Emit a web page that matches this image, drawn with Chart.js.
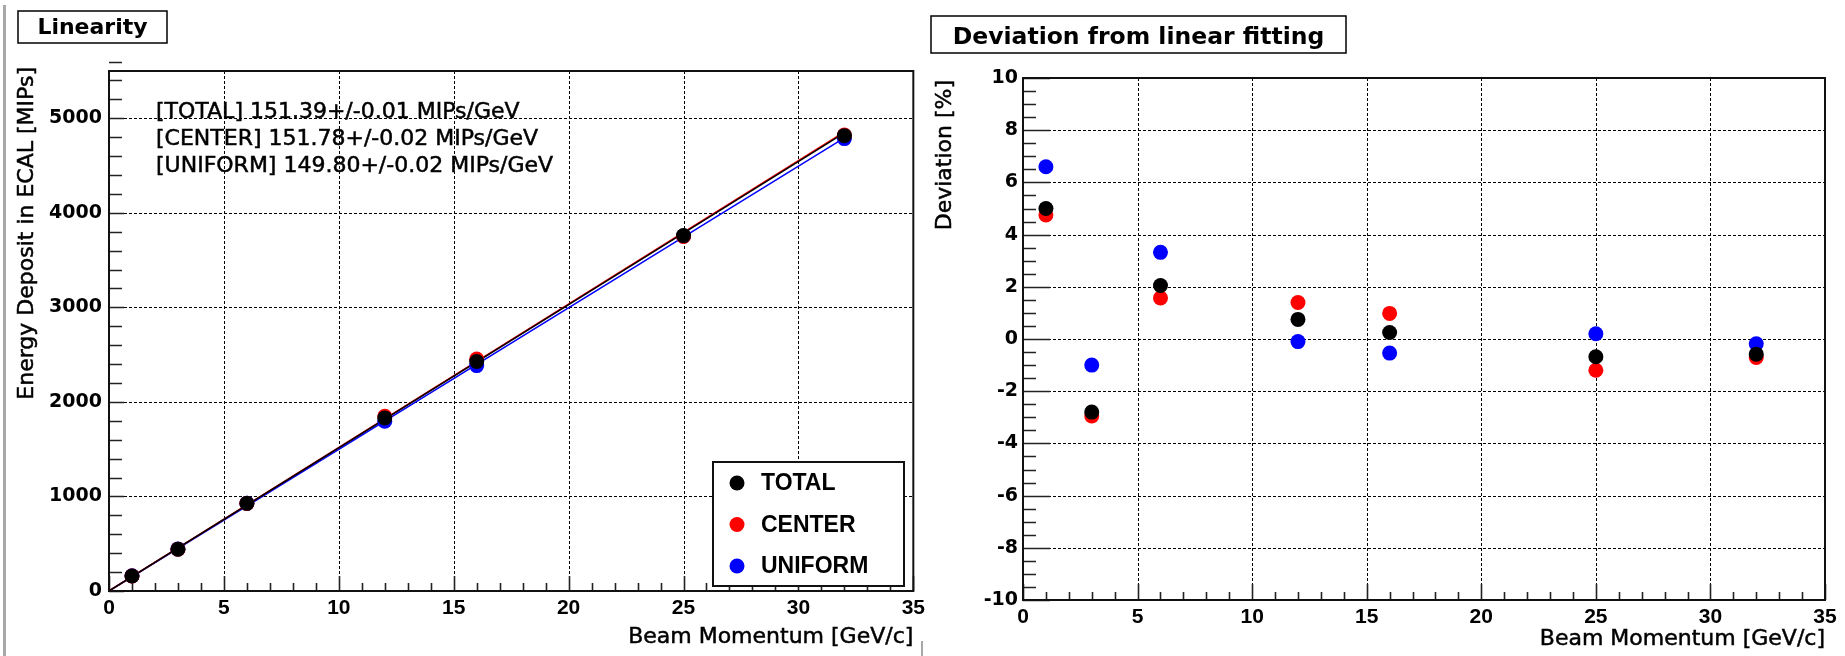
<!DOCTYPE html>
<html><head><meta charset="utf-8">
<script src="https://cdn.jsdelivr.net/npm/chart.js@4.4.1/dist/chart.umd.min.js"></script>
<style>
html,body{margin:0;padding:0;background:#fff;width:1845px;height:656px;overflow:hidden;position:relative}
#c1{position:absolute;left:0;top:0}
#c2{position:absolute;left:930px;top:0}
</style></head><body>
<canvas id="c1" width="930" height="656"></canvas>
<canvas id="c2" width="915" height="656"></canvas>
<script>
// ---------- data ----------
const momentum = [1, 3, 6, 12, 16, 25, 32];
const seriesNames = ['TOTAL', 'CENTER', 'UNIFORM'];
const totalEnergy   = [159, 441, 927, 1831, 2428, 3759, 4816];
const centerEnergy  = [159, 442, 925, 1847, 2453, 3749, 4822];
const uniformEnergy = [160, 445, 929, 1796, 2384, 3754, 4785];
const totalDeviation   = [5.0, -2.8, 2.05, 0.75, 0.25, -0.68, -0.58];
const centerDeviation  = [4.75, -2.95, 1.57, 1.4, 0.98, -1.2, -0.71];
const uniformDeviation = [6.6, -1.0, 3.32, -0.1, -0.54, 0.2, -0.18];
const fitSlopes = [151.39, 151.78, 149.80];
const fitErrors = [0.01, 0.02, 0.02];
const fitRange = [0, 32];
const xTicks = [0, 5, 10, 15, 20, 25, 30, 35];
const yTicksLeft = [0, 1000, 2000, 3000, 4000, 5000];
const yTicksRight = [-10, -8, -6, -4, -2, 0, 2, 4, 6, 8, 10];
const seriesColors = ['#000000', '#ff0000', '#0000ff'];

// ---------- helpers ----------
const pts = (xs, ys) => xs.map((v, i) => ({x: v, y: ys[i]}));
const inner = arr => arr.slice(1, -1);
const plain = v => String(v);

function heavyText(ctx, t, x, y) {
  ctx.fillText(t, x, y);
  ctx.lineWidth = 0.5; ctx.strokeStyle = '#000';
  ctx.strokeText(t, x, y);
}

const rootFrame = {
  id: 'rootFrame',
  beforeDatasetsDraw(chart, args, o) {
    const {ctx, chartArea: a, scales: {x, y}} = chart;
    ctx.save();
    // dotted grid
    ctx.strokeStyle = '#000'; ctx.lineWidth = 1; ctx.setLineDash([3, 2]);
    ctx.beginPath();
    for (const v of o.xGrid) { const p = Math.round(x.getPixelForValue(v)) + 0.5; ctx.moveTo(p, a.top); ctx.lineTo(p, a.bottom); }
    for (const v of o.yGrid) { const p = Math.round(y.getPixelForValue(v)) + 0.5; ctx.moveTo(a.left, p); ctx.lineTo(a.right, p); }
    ctx.stroke();
    ctx.setLineDash([]);
    // inward ticks
    ctx.strokeStyle = '#222'; ctx.lineWidth = 1.6;
    ctx.beginPath();
    let n = Math.round((x.max - x.min) / o.xMinor);
    for (let i = 0; i <= n; i++) {
      const v = x.min + i * o.xMinor;
      const maj = Math.abs(v / o.xMajor - Math.round(v / o.xMajor)) < 1e-6;
      const p = Math.round(x.getPixelForValue(v)) + 0.5;
      ctx.moveTo(p, a.bottom); ctx.lineTo(p, a.bottom - (maj ? o.xMajorLen : o.xMinorLen));
    }
    n = Math.round((y.max - y.min) / o.yMinor);
    for (let i = 0; i <= n; i++) {
      const v = y.min + i * o.yMinor;
      const maj = Math.abs(v / o.yMajor - Math.round(v / o.yMajor)) < 1e-6;
      const p = Math.round(y.getPixelForValue(v)) + 0.5;
      ctx.moveTo(a.left, p); ctx.lineTo(a.left + (maj ? o.yMajorLen : o.yMinorLen), p);
    }
    ctx.stroke();
    // frame
    ctx.strokeStyle = '#111'; ctx.lineWidth = 2;
    ctx.strokeRect(a.left, a.top, a.right - a.left, a.bottom - a.top);
    ctx.restore();
  }
};

const rootText = {
  id: 'rootText',
  afterDraw(chart, args, o) {
    const {ctx, chartArea: a} = chart;
    ctx.save();
    ctx.fillStyle = '#000'; ctx.strokeStyle = '#000';
    // title box
    const tb = o.titleBox;
    ctx.fillStyle = '#fff'; ctx.fillRect(tb.x1, tb.y1, tb.x2 - tb.x1, tb.y2 - tb.y1);
    ctx.lineWidth = 1.5; ctx.strokeRect(tb.x1, tb.y1, tb.x2 - tb.x1, tb.y2 - tb.y1);
    ctx.fillStyle = '#000'; ctx.font = tb.font; ctx.textAlign = 'center'; ctx.textBaseline = 'alphabetic';
    ctx.fillText(tb.text, (tb.x1 + tb.x2) / 2, tb.baseline);
    // x title
    ctx.font = o.axisFont; ctx.textAlign = 'right';
    heavyText(ctx, o.xTitle, a.right, o.xTitleBaseline);
    // y title (rotated, aligned to the top of the axis)
    ctx.save();
    ctx.translate(o.yTitleX, o.yTitleTop);
    ctx.rotate(-Math.PI / 2);
    ctx.textAlign = 'right'; ctx.textBaseline = 'middle';
    heavyText(ctx, o.yTitle, 0, 0);
    ctx.restore();
    // annotation lines
    if (o.notes) {
      ctx.font = o.notes.font; ctx.textAlign = 'left'; ctx.textBaseline = 'alphabetic';
      o.notes.lines.forEach((t, i) => heavyText(ctx, t, o.notes.x, o.notes.baseline + i * o.notes.step));
    }
    // legend
    if (o.legend) {
      const L = o.legend;
      ctx.fillStyle = '#fff'; ctx.fillRect(L.x1, L.y1, L.x2 - L.x1, L.y2 - L.y1);
      ctx.lineWidth = 2; ctx.strokeStyle = '#111'; ctx.strokeRect(L.x1, L.y1, L.x2 - L.x1, L.y2 - L.y1);
      ctx.font = L.font; ctx.textBaseline = 'middle'; ctx.textAlign = 'left';
      const sets = chart.data.datasets.filter(d => !d.showLine);
      sets.forEach((d, i) => {
        const cy = L.rowY + i * L.rowStep;
        ctx.fillStyle = d.backgroundColor;
        ctx.beginPath(); ctx.arc(L.markX, cy, 7.5, 0, Math.PI * 2); ctx.fill();
        ctx.fillStyle = '#000';
        ctx.fillText(d.label, L.textX, cy + 1);
      });
    }
    // page decorations
    if (o.deco) { ctx.fillStyle = '#a8a8a8'; o.deco.forEach(r => ctx.fillRect(r[0], r[1], r[2], r[3])); }
    ctx.restore();
  }
};

const tickFontX = {family: 'Liberation Sans', weight: 'bold', size: 21};
const tickFontY = {family: 'DejaVu Sans', weight: 'bold', size: 19};

function pointSet(label, color, data, order) {
  return {label, data, backgroundColor: color, borderColor: color, pointRadius: 7.5,
          pointBorderWidth: 0, pointHoverRadius: 7.5, showLine: false, order};
}

// ---------- left chart: linearity ----------
const energySeries = [totalEnergy, centerEnergy, uniformEnergy];
const leftSets = seriesNames.map((nm, i) => pointSet(nm, seriesColors[i], pts(momentum, energySeries[i]), i));
fitSlopes.forEach((s, i) => {
  leftSets.push({label: seriesNames[i] + ' fit', data: fitRange.map(v => ({x: v, y: s * v})),
    showLine: true, borderColor: seriesColors[i], borderWidth: 1.5, pointRadius: 0, order: 10 + i});
});

new Chart(document.getElementById('c1'), {
  type: 'scatter',
  data: {datasets: leftSets},
  options: {
    responsive: false, animation: false, devicePixelRatio: 1,
    layout: {padding: {left: 0, top: 71, right: 16, bottom: 0}},
    scales: {
      x: {type: 'linear', min: 0, max: 35,
          afterBuildTicks: s => { s.ticks = xTicks.map(v => ({value: v})); },
          afterFit: s => { s.height = 65; },
          ticks: {font: tickFontX, color: '#000', padding: 5, maxRotation: 0, autoSkip: false, callback: plain},
          grid: {display: false, drawTicks: false}, border: {display: false}},
      y: {type: 'linear', min: 0, max: 5500,
          afterBuildTicks: s => { s.ticks = yTicksLeft.map(v => ({value: v})); },
          afterFit: s => { s.width = 109; },
          ticks: {font: tickFontY, color: '#000', padding: 7, autoSkip: false, callback: plain},
          grid: {display: false, drawTicks: false}, border: {display: false}}
    },
    plugins: {
      legend: {display: false}, tooltip: {enabled: false},
      rootFrame: {xGrid: inner(xTicks), yGrid: yTicksLeft.slice(1), xMajor: 5, xMinor: 1, yMajor: 1000, yMinor: 200,
                  xMajorLen: 15, xMinorLen: 8, yMajorLen: 15, yMinorLen: 13},
      rootText: {
        titleBox: {x1: 18, y1: 11, x2: 167, y2: 43, text: 'Linearity', font: 'bold 22px "DejaVu Sans"', baseline: 34},
        axisFont: '22px "DejaVu Sans"',
        xTitle: 'Beam Momentum [GeV/c]', xTitleBaseline: 643,
        yTitle: 'Energy Deposit in ECAL [MIPs]', yTitleX: 27, yTitleTop: 67,
        notes: {font: '22px "DejaVu Sans"', x: 156, baseline: 118, step: 27,
                lines: seriesNames.map((nm, i) => `[${nm}] ${fitSlopes[i].toFixed(2)}+/-${fitErrors[i].toFixed(2)} MIPs/GeV`)},
        legend: {x1: 713, y1: 462, x2: 904, y2: 586, markX: 737, textX: 761, rowY: 483, rowStep: 41.5,
                 font: 'bold 23px "Liberation Sans"'},
        deco: [[3, 5, 3, 651], [921, 641, 2, 15]]
      }
    }
  },
  plugins: [rootFrame, rootText]
});

// ---------- right chart: deviation ----------
const devSeries = [totalDeviation, centerDeviation, uniformDeviation];
const rightSets = seriesNames.map((nm, i) => pointSet(nm, seriesColors[i], pts(momentum, devSeries[i]), i));

new Chart(document.getElementById('c2'), {
  type: 'scatter',
  data: {datasets: rightSets},
  options: {
    responsive: false, animation: false, devicePixelRatio: 1,
    layout: {padding: {left: 0, top: 78, right: 20, bottom: 0}},
    scales: {
      x: {type: 'linear', min: 0, max: 35,
          afterBuildTicks: s => { s.ticks = xTicks.map(v => ({value: v})); },
          afterFit: s => { s.height = 56; },
          ticks: {font: tickFontX, color: '#000', padding: 5, maxRotation: 0, autoSkip: false, callback: plain},
          grid: {display: false, drawTicks: false}, border: {display: false}},
      y: {type: 'linear', min: -10, max: 10,
          afterBuildTicks: s => { s.ticks = yTicksRight.map(v => ({value: v})); },
          afterFit: s => { s.width = 93; },
          ticks: {font: tickFontY, color: '#000', padding: 5, autoSkip: false, callback: plain},
          grid: {display: false, drawTicks: false}, border: {display: false}}
    },
    plugins: {
      legend: {display: false}, tooltip: {enabled: false},
      rootFrame: {xGrid: inner(xTicks), yGrid: inner(yTicksRight), xMajor: 5, xMinor: 1, yMajor: 2, yMinor: 0.5,
                  xMajorLen: 16, xMinorLen: 8, yMajorLen: 27, yMinorLen: 13},
      rootText: {
        titleBox: {x1: 1, y1: 16, x2: 416, y2: 53, text: 'Deviation from linear fitting', font: 'bold 23.5px "DejaVu Sans"', baseline: 44},
        axisFont: '22px "DejaVu Sans"',
        xTitle: 'Beam Momentum [GeV/c]', xTitleBaseline: 645,
        yTitle: 'Deviation [%]', yTitleX: 15, yTitleTop: 80
      }
    }
  },
  plugins: [rootFrame, rootText]
});
</script>
</body></html>
